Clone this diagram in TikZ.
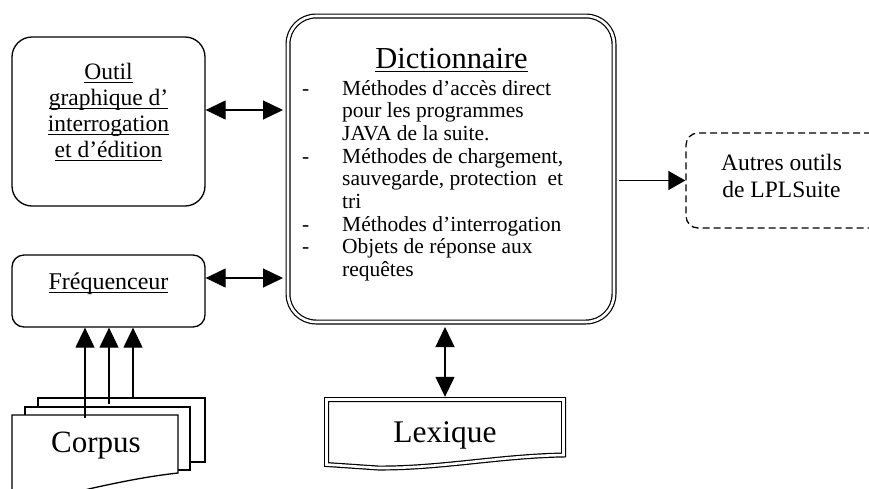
\documentclass[tikz,border=0pt]{standalone}
\usepackage{fontspec}
\setmainfont{Liberation Serif}
\usetikzlibrary{arrows.meta,calc}
\newcommand\ulx[1]{\leavevmode\setbox0=\hbox{#1}\rlap{\rule[-4pt]{\wd0}{0.9pt}}\box0}
\begin{document}
\begin{tikzpicture}[x=1pt,y=-1pt,
  box/.style={draw, line width=1.3pt, rounded corners=#1, inner sep=0pt},
  dbl/.style={draw, line width=1.2pt, double=white, double distance=2.6pt},
  doc/.style={draw, line width=1.3pt, fill=white},
  arr/.style={line width=1.3pt, -{Triangle[length=20pt,width=19pt]}},
  darr/.style={line width=1.3pt, {Triangle[length=20pt,width=19pt]}-{Triangle[length=20pt,width=19pt]}},
  txt/.style={anchor=base, inner sep=0pt}
]
\useasboundingbox (0,0) rectangle (869,488);
\clip (0,0) rectangle (869,488);

% Outil graphique
\node[box=20pt, minimum width=193pt, minimum height=169pt] (outil) at (108.5,121.5) {};
\node[txt, font=\fontsize{23.5}{26}\selectfont] (outilt) at (108.5,79)
  {\parbox[t]{190pt}{\centering\ulx{Outil}\\\ulx{graphique d’}\\\ulx{interrogation}\\\ulx{et d’édition}}};

% Frequenceur
\node[box=12pt, minimum width=193pt, minimum height=72pt] (freq) at (108.5,291) {};
\node[txt, font=\fontsize{24}{26}\selectfont] (freqt) at (108.5,289) {\ulx{Fréquenceur}};

% Dictionnaire
\node[dbl, rounded corners=28pt, minimum width=326pt, minimum height=306pt, outer sep=5pt] (dict) at (451,169) {};
\node[txt, font=\fontsize{30.5}{32}\selectfont] (dictt) at (451.5,68) {\ulx{Dictionnaire}};
\node[anchor=base west, inner sep=0pt, font=\fontsize{21.5}{22.7}\selectfont] (dictb) at (302,95)
  {\parbox[t]{310pt}{\raggedright
  \makebox[40pt][l]{-}Méthodes d’accès direct\\
  \hspace*{40pt}pour les programmes\\
  \hspace*{40pt}JAVA de la suite.\\
  \makebox[40pt][l]{-}Méthodes de chargement,\\
  \hspace*{40pt}sauvegarde, protection\ \ et\\
  \hspace*{40pt}tri\\
  \makebox[40pt][l]{-}Méthodes d’interrogation\\
  \makebox[40pt][l]{-}Objets de réponse aux\\
  \hspace*{40pt}requêtes}};

% Autres outils
\node[draw, line width=1.3pt, dash pattern=on 7pt off 4pt, rounded corners=12pt,
  minimum width=230pt, minimum height=95pt] (autres) at (801,180.5) {};
\node[txt, font=\fontsize{23.5}{27}\selectfont] (autrest) at (781.5,170)
  {\parbox[t]{160pt}{\centering Autres outils\\de LPLSuite}};

% Lexique
\node[minimum width=242pt, minimum height=70pt, inner sep=0pt] (lexbox) at (445,432) {};
\draw[dbl] (326.5,399.5) -- (563.5,399.5) -- (563.5,455)
  .. controls (500,456) and (440,468.5) .. (378,468) -- (326.5,464.5) -- cycle;
\node[txt, font=\fontsize{31.5}{33}\selectfont] (lext) at (445,442) {Lexique};

% Corpus stack
\draw[doc] (38,398) rectangle (205,462);
\draw[doc] (25,407) rectangle (190,470);
\draw[doc] (12,415) -- (178,415) -- (178,473)
  .. controls (150,476) and (120,482) .. (93,488)
  .. controls (75,492) and (55,500) .. (40,502) -- (12,502) -- cycle;
\node[txt, font=\fontsize{31}{33}\selectfont] (corpus) at (96,452) {Corpus};

\coordinate (c1) at (85,418);
\coordinate (c2) at (109,404);
\coordinate (c3) at (133,397);
\draw[arr] (c1) -- (c1 |- freq.south);
\draw[arr] (c2) -- (c2 |- freq.south);
\draw[arr] (c3) -- (c3 |- freq.south);

% Connectors
\draw[darr] ([yshift=11.5pt]outil.east) -- ([yshift=11.5pt]outil.east -| dict.west);
\draw[darr] ([yshift=13pt]freq.east) -- ([yshift=13pt]freq.east -| dict.west);
\draw[darr] (lexbox.north |- dict.south) -- (lexbox.north);
\draw[line width=1.3pt, -{Triangle[length=17pt,width=19pt]}] (autres.west -| dict.east) -- (autres.west);
\end{tikzpicture}
\end{document}
